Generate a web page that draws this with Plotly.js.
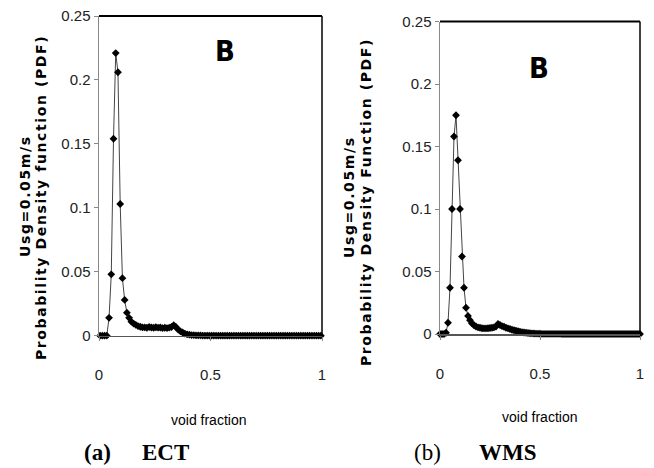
<!DOCTYPE html>
<html>
<head>
<meta charset="utf-8">
<script src="https://cdn.plot.ly/plotly-3.0.1.min.js"></script>
<style>html,body{margin:0;padding:0;background:#fff;}#chart{width:654px;height:468px;}</style>
</head>
<body>
<div id="chart"></div>
<script>
// ECT (a): void fraction bin centres and PDF values
const ectX = [];
for (let i = 0; i < 100; i++) ectX.push(+(0.005 + i * 0.01).toFixed(3));
const ectPDF = [
  0, 0, 0, 0, 0.014, 0.048, 0.154, 0.221, 0.206, 0.103,
  0.045, 0.028, 0.018, 0.014, 0.011, 0.0095, 0.0085, 0.0075, 0.007, 0.0065,
  0.0065, 0.0062, 0.0068, 0.0064, 0.0062, 0.0066, 0.0063, 0.0064, 0.006, 0.0062,
  0.006, 0.0063, 0.0068, 0.0082, 0.0068, 0.0048, 0.0034, 0.0025, 0.0017, 0.0011,
  0.0008, 0.0005, 0.0004, 0.0003, 0.0002, 0.0002, 0.0001, 0.0001, 0.0001, 0.0001,
  0.0001, 0.0001, 0, 0, 0, 0, 0, 0, 0, 0,
  0, 0, 0, 0, 0, 0, 0, 0, 0, 0,
  0, 0, 0, 0, 0, 0, 0, 0, 0, 0,
  0, 0, 0, 0, 0, 0, 0, 0, 0, 0,
  0, 0, 0, 0, 0, 0, 0, 0, 0, 0
];

// WMS (b): void fraction values and PDF values
const wmsX = [];
for (let i = 0; i <= 100; i++) wmsX.push(+(i * 0.01).toFixed(2));
const wmsPDF = [
  0, 0, 0, 0.001, 0.009, 0.037, 0.100, 0.158, 0.175, 0.139,
  0.100, 0.062, 0.037, 0.021, 0.0145, 0.011, 0.0085, 0.007, 0.006, 0.0053,
  0.005, 0.0046, 0.0045, 0.0045, 0.0046, 0.0048, 0.005, 0.0053, 0.006, 0.008,
  0.0072, 0.0063, 0.0058, 0.005, 0.0045, 0.004, 0.0034, 0.003, 0.0026, 0.0022,
  0.0018, 0.0015, 0.0012, 0.001, 0.0008, 0.0006, 0.0005, 0.0004, 0.0003, 0.0003,
  0.0002, 0.0001, 0.0001, 0.0001, 0.0001, 0.0001, 0.0001, 0.0001, 0.0001, 0.0001,
  0.0001, 0, 0, 0, 0, 0, 0, 0, 0, 0,
  0, 0, 0, 0, 0, 0, 0, 0, 0, 0,
  0, 0, 0, 0, 0, 0, 0, 0, 0, 0,
  0, 0, 0, 0, 0, 0, 0, 0, 0, 0,
  0
];

const xTickVals = [0, 0.5, 1];
const xTickText = ['0', '0.5', '1'];
const yTitle1 = 'Usg=0.05m/s';
const yTitleA = 'Probability Density function (PDF)';
const yTitleB = 'Probability Density Function (PDF)';
const xTitle = 'void fraction';
const panelLabel = 'B';

const W = 654, H = 468;
const px = v => v / W, py = v => 1 - v / H;

function trace(x, y, xa, ya) {
  return {
    x: x, y: y, xaxis: xa, yaxis: ya, type: 'scatter', mode: 'lines+markers',
    line: {color: '#444', width: 1},
    marker: {symbol: 'diamond', size: 6, color: '#000'},
    cliponaxis: false, showlegend: false, hoverinfo: 'skip'
  };
}

const tickFont = {family: 'Liberation Sans, Arial, sans-serif', size: 15, color: '#222'};

function xAxis(domain, anchor, standoff) {
  return {
    domain: domain, anchor: anchor, range: [0, 1],
    tickvals: xTickVals, ticktext: xTickText,
    showline: true, linecolor: '#555', linewidth: 1.5,
    ticks: 'outside', ticklen: 4, tickcolor: '#888', tickwidth: 1,
    showgrid: false, zeroline: false, tickfont: tickFont,
    ticklabelstandoff: standoff
  };
}
function yAxis(domain, anchor) {
  return {
    domain: domain, anchor: anchor, range: [0, 0.25], dtick: 0.05,
    showline: true, linecolor: '#888', linewidth: 1.5,
    ticks: 'outside', ticklen: 4, tickcolor: '#888', tickwidth: 1,
    showgrid: false, zeroline: false, tickfont: tickFont
  };
}

const ytFont = {family: 'DejaVu Sans, sans-serif', size: 14, color: '#000'};
const capFont = {family: 'Liberation Serif, Times New Roman, serif', size: 23, color: '#000'};
const bFont = {family: 'DejaVu Sans Condensed, Liberation Sans Narrow, sans-serif', size: 29, color: '#000'};
const vfFont = {family: 'Liberation Sans Narrow, Liberation Sans, sans-serif', size: 14, color: '#000'};

function spaced(t) { return '<span style="letter-spacing:1.6px"><b>' + t + '</b></span>'; }

function ann(text, x, y, font, opts) {
  return Object.assign({text: text, x: px(x), y: py(y), xref: 'paper', yref: 'paper',
    showarrow: false, xanchor: 'center', yanchor: 'middle', font: font}, opts || {});
}

const layout = {
  width: W, height: H,
  margin: {l: 0, r: 0, t: 0, b: 0},
  paper_bgcolor: '#fff', plot_bgcolor: '#fff',
  xaxis: xAxis([px(99), px(322)], 'y', 21),
  yaxis: yAxis([py(335.7), py(16)], 'x'),
  xaxis2: xAxis([px(440), px(640)], 'y2', 21),
  yaxis2: yAxis([py(334), py(21.5)], 'x2'),
  shapes: [
    {type: 'line', xref: 'x domain', yref: 'y domain', x0: 0, x1: 1, y0: 1, y1: 1, line: {color: '#000', width: 2}},
    {type: 'line', xref: 'x domain', yref: 'y domain', x0: 1, x1: 1, y0: 0, y1: 1, line: {color: '#000', width: 1.5}},
    {type: 'line', xref: 'x2 domain', yref: 'y2 domain', x0: 0, x1: 1, y0: 1, y1: 1, line: {color: '#000', width: 2}},
    {type: 'line', xref: 'x2 domain', yref: 'y2 domain', x0: 1, x1: 1, y0: 0, y1: 1, line: {color: '#000', width: 1.5}}
  ],
  annotations: [
    ann(spaced(yTitle1), 25, 196, ytFont, {textangle: -90}),
    ann(spaced(yTitleA), 41, 198, ytFont, {textangle: -90}),
    ann(spaced(yTitle1), 349, 197, ytFont, {textangle: -90}),
    ann(spaced(yTitleB), 366, 202, ytFont, {textangle: -90}),
    ann('<b>' + panelLabel + '</b>', 225, 51, bFont),
    ann('<b>' + panelLabel + '</b>', 539, 68, bFont),
    ann(xTitle, 208, 420, vfFont),
    ann(xTitle, 539, 417, vfFont),
    ann('<b>(a)</b>', 82, 452, capFont, {xanchor: 'left'}),
    ann('<b>ECT</b>', 140, 452, capFont, {xanchor: 'left'}),
    ann('(b)', 412, 452, capFont, {xanchor: 'left'}),
    ann('<b>WMS</b>', 477, 452, capFont, {xanchor: 'left'})
  ]
};

Plotly.newPlot('chart', [trace(ectX, ectPDF, 'x', 'y'), trace(wmsX, wmsPDF, 'x2', 'y2')], layout, {staticPlot: true, displayModeBar: false});
</script>
</body>
</html>
